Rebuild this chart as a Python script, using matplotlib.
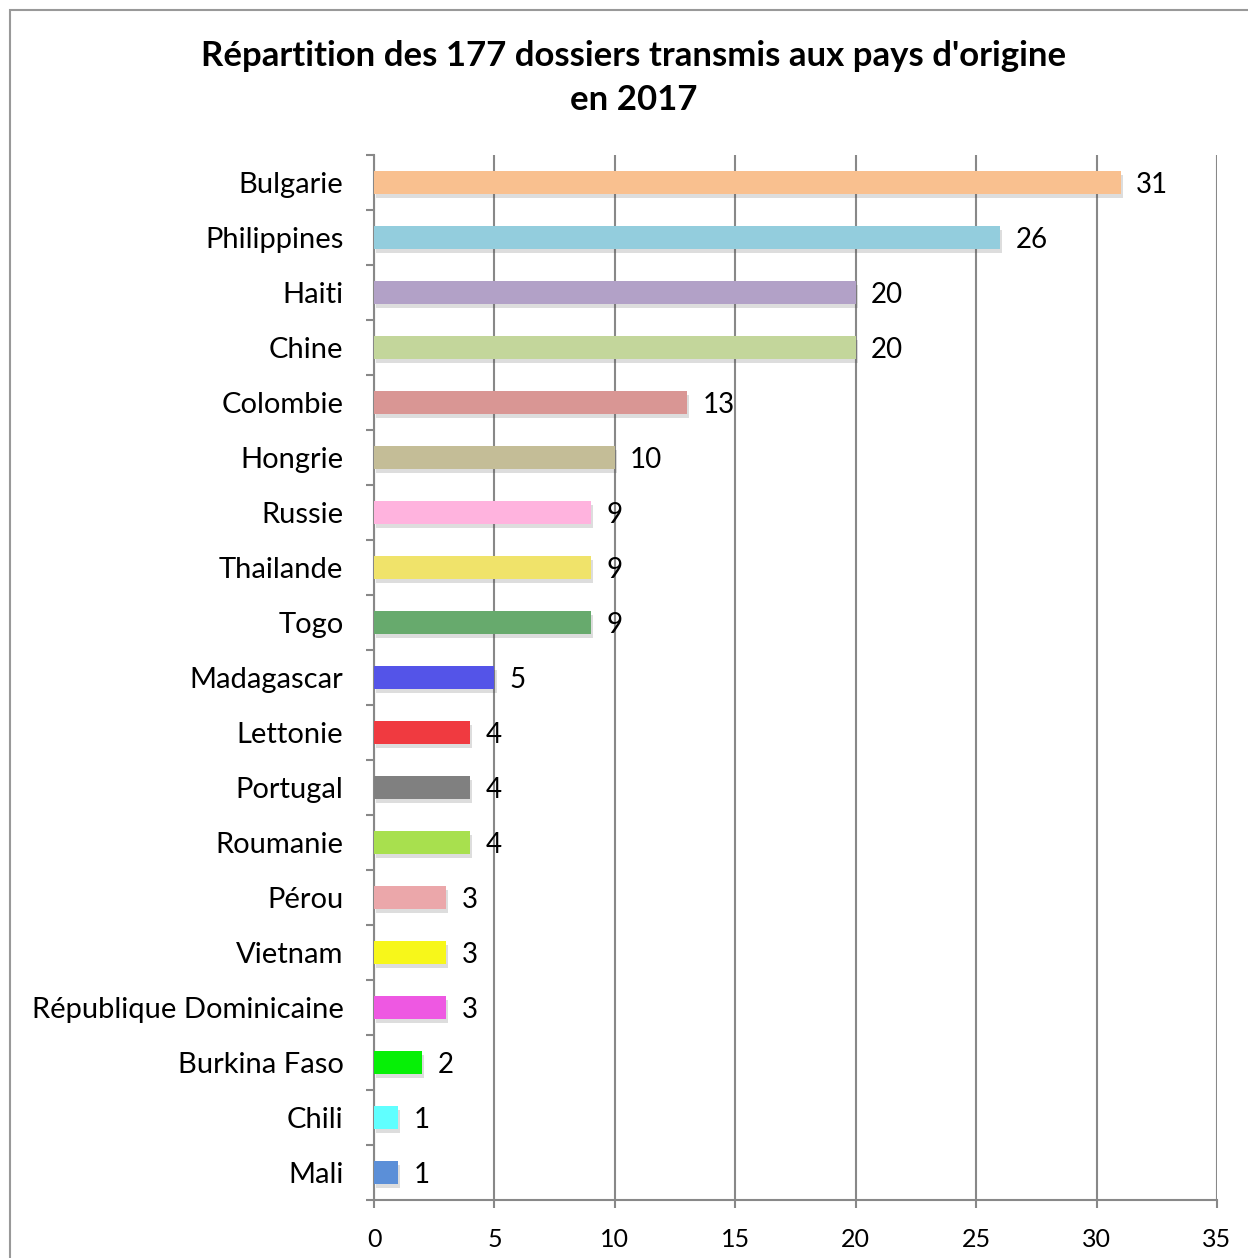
import matplotlib.pyplot as plt
import matplotlib.patheffects as pe
from matplotlib.patches import Rectangle
import numpy as np

# donnees
pays = ["Bulgarie", "Philippines", "Haiti", "Chine", "Colombie", "Hongrie",
        "Russie", "Thailande", "Togo", "Madagascar", "Lettonie", "Portugal",
        "Roumanie", "Pérou", "Vietnam", "République Dominicaine",
        "Burkina Faso", "Chili", "Mali"]
dossiers = [31, 26, 20, 20, 13, 10, 9, 9, 9, 5, 4, 4, 4, 3, 3, 3, 2, 1, 1]
couleurs = ["#F9C08F", "#93CDDD", "#B2A1C7", "#C3D69B", "#D99694", "#C4BD97",
            "#FFB3DE", "#F0E36A", "#67AA6D", "#5454E8", "#F03A40", "#808080",
            "#A8E04E", "#EBA7AA", "#F7F71A", "#EE58E2", "#06F006", "#60FFFF",
            "#5B8FD8"]

plt.rcParams['font.family'] = ['Lato', 'DejaVu Sans']

fig = plt.figure(figsize=(12.48, 12.58), dpi=100)
ax = fig.add_axes([374/1248, 1 - 1200/1258, 843/1248, 1045/1258])

# cadre exterieur
fig.patches.append(Rectangle((10/1248, -0.1), 1.2, 1 - 10/1258 + 0.1,
                             transform=fig.transFigure, fill=False,
                             edgecolor="#999999", linewidth=1.5))

y = np.arange(len(pays))
barres = ax.barh(y, dossiers, height=0.42, color=couleurs, zorder=3)
for b in barres:
    b.set_path_effects([pe.SimplePatchShadow(offset=(1.5, -3), alpha=0.18,
                                             shadow_rgbFace="#444444"),
                        pe.Normal()])

for yi, v in zip(y, dossiers):
    ax.annotate(str(v), (v, yi), xytext=(11, 0), textcoords="offset points",
                va="center_baseline", ha="left", fontsize=20, zorder=4)

ax.set_xlim(0, 35)
ax.set_ylim(len(pays) - 0.5, -0.5)
ax.set_xticks(range(0, 36, 5))
ax.set_yticks(y)
ax.set_yticklabels(pays, fontsize=21)
ax.set_yticks(np.arange(-0.5, len(pays), 1), minor=True)
ax.tick_params(axis="y", which="major", length=0, pad=22)
ax.tick_params(axis="y", which="minor", length=6, width=1.5, color="#888888")
ax.tick_params(axis="x", length=6, width=1.5, color="#888888", pad=14,
               labelsize=18)
ax.grid(axis="x", color="#888888", linewidth=1.5, zorder=0)
ax.set_axisbelow(True)

for s in ["top", "right"]:
    ax.spines[s].set_visible(False)
for s in ["left", "bottom"]:
    ax.spines[s].set_color("#888888")
    ax.spines[s].set_linewidth(1.5)

fig.text(0.508, 1 - 78/1258,
         "Répartition des 177 dossiers transmis aux pays d'origine\nen 2017",
         ha="center", va="center", fontsize=25, fontweight="bold",
         linespacing=1.45)

fig.savefig("out.png", dpi=100)
